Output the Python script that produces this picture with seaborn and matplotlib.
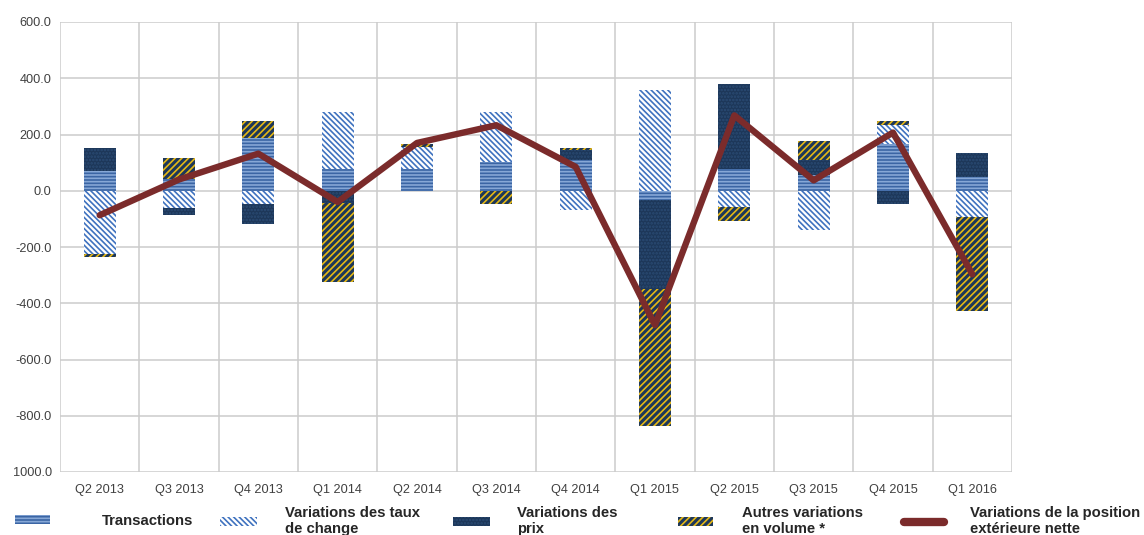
import numpy as np
import matplotlib
matplotlib.use("Agg")
import matplotlib.pyplot as plt
from matplotlib.patches import Patch
from matplotlib.lines import Line2D
import seaborn as sns

# --- data ---
quarters = ["Q2 2013", "Q3 2013", "Q4 2013", "Q1 2014", "Q2 2014", "Q3 2014",
            "Q4 2014", "Q1 2015", "Q2 2015", "Q3 2015", "Q4 2015", "Q1 2016"]
transactions = [70, 43, 189, 79, 79, 102, 111, -34, 79, 55, 168, 49]
exchange_rate = [-226, -60, -46, 201, 77, 178, -67, 360, -57, -140, 65, -95]
prices = [82, -27, -73, -45, 0, 0, 33, -314, 300, 56, -48, 85]
other_volume = [-9, 74, 59, -280, 12, -48, 9, -488, -50, 65, 15, -332]
net_position = [-87, 40, 132, -40, 170, 233, 85, -478, 268, 37, 207, -297]

y_ticks = [600, 400, 200, 0, -200, -400, -600, -800, -1000]
y_tick_labels = ["600.0", "400.0", "200.0", "0.0", "-200.0", "-400.0",
                 "-600.0", "-800.0", "1000.0"]

labels = ["Transactions", "Variations des taux\nde change", "Variations des\nprix",
          "Autres variations\nen volume *", "Variations de la position\nextérieure nette"]

# --- style ---
sns.set_style("white")
plt.rcParams["font.family"] = ["Liberation Sans", "DejaVu Sans"]
plt.rcParams["hatch.linewidth"] = 1.2

W, H = 1144, 535
fig = plt.figure(figsize=(W / 100, H / 100), dpi=100)
ax = fig.add_axes([60 / W, 1 - 472 / H, 952 / W, 450 / H])

styles = [
    dict(color="#3b65a4", edgecolor="#86a7d6", hatch="-----"),
    dict(color="white", edgecolor="#3f72bf", hatch="\\\\\\\\\\\\"),
    dict(color="#1d3759", edgecolor="#2a4b74", hatch="....."),
    dict(color="#1d3759", edgecolor="#e6b814", hatch="/////"),
]
series = [transactions, exchange_rate, prices, other_volume]

x = np.arange(len(quarters))
pos_base = np.zeros(len(quarters))
neg_base = np.zeros(len(quarters))
for values, st in zip(series, styles):
    v = np.array(values, dtype=float)
    bottom = np.where(v >= 0, pos_base, neg_base)
    ax.bar(x, v, width=0.4, bottom=bottom, linewidth=0, zorder=2, **st)
    pos_base += np.clip(v, 0, None)
    neg_base += np.clip(v, None, 0)

line_color = "#7b2b2b"
sns.lineplot(x=x, y=net_position, ax=ax, color=line_color, linewidth=4.6, zorder=3)

# --- axes ---
ax.set_xlim(-0.5, len(quarters) - 0.5)
ax.set_ylim(-1000, 600)
ax.set_yticks(y_ticks, y_tick_labels)
ax.set_xticks(x, quarters)
ax.set_xticks(np.arange(-0.5, len(quarters)), minor=True)
ax.grid(axis="y", which="major", color="#cccccc", linewidth=1.1, zorder=0)
ax.grid(axis="x", which="minor", color="#cccccc", linewidth=1.1, zorder=0)
ax.set_axisbelow(True)
for s in ax.spines.values():
    s.set_visible(False)
ax.tick_params(axis="x", which="both", length=0, pad=9, labelsize=9.2, labelcolor="#404040")
ax.tick_params(axis="y", length=4, width=1.1, color="#cccccc", pad=2,
               labelsize=9.2, labelcolor="#404040")

# --- legend: one entry per block, placed along the bottom ---
handles = [Patch(facecolor=st["color"], edgecolor=st["edgecolor"], hatch=st["hatch"], linewidth=0)
           for st in styles]
handles.append(Line2D([0], [0], color=line_color, linewidth=6, solid_capstyle="round"))

fs = 10.7
fs_px = fs * 100 / 72
# (handle left, handle right, text left, vertical centre) in pixels
spots = [(15, 50, 102, 521), (220, 257, 285, 521), (453, 490, 517, 521),
         (678, 713, 742, 521), (904, 944, 970, 521)]
for h, lab, (hl, hr, tl, yc) in zip(handles, labels, spots):
    fig.legend([h], [lab], loc="center left", bbox_to_anchor=(hl / W, 1 - yc / H),
               frameon=False, borderpad=0, borderaxespad=0,
               handlelength=(hr - hl) / fs_px, handleheight=0.6,
               handletextpad=(tl - hr) / fs_px,
               prop=dict(size=fs, weight="bold"), labelspacing=0)

fig.savefig("out.png", dpi=100)
